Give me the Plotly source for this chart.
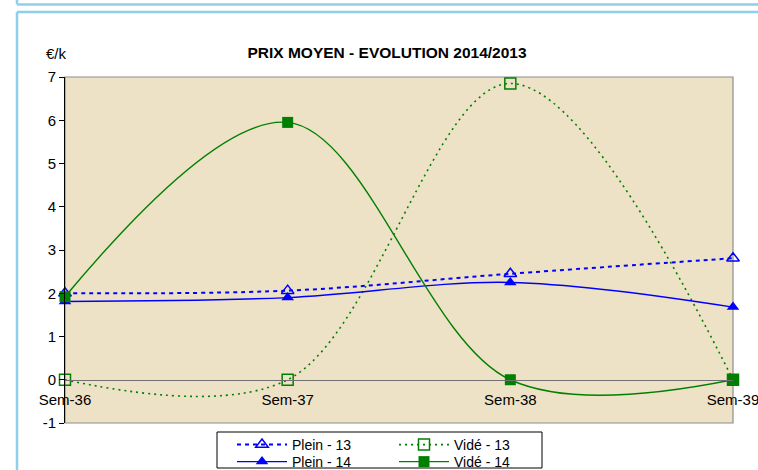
import plotly.graph_objects as go

# ---- data ----
categories = ["Sem-36", "Sem-37", "Sem-38", "Sem-39"]
plein_13 = [2.0, 2.06, 2.45, 2.81]
vide_13 = [0.0, 0.0, 6.85, 0.0]
plein_14 = [1.81, 1.9, 2.25, 1.68]
vide_14 = [1.92, 5.95, 0.0, 0.0]
y_ticks = [-1, 0, 1, 2, 3, 4, 5, 6, 7]
y_tick_labels = ["-1", "0", "1", "2", "3", "4", "5", "6", "7"]

W, H = 758, 470
L, R, T, B = 65, 733, 77, 423  # plot area in pixels


def px_x(px):
    return (px - L) / (R - L)


def px_y(py):
    return (B - py) / (B - T)


FONT = "Liberation Sans, Arial, sans-serif"
BLUE = "#0000FF"
GREEN = "#008000"

fig = go.Figure()

fig.add_trace(go.Scatter(
    x=categories, y=plein_13, name="Plein - 13", mode="lines+markers", legend="legend",
    line=dict(color=BLUE, width=2, dash="4px,4px", shape="spline", smoothing=1),
    marker=dict(symbol="triangle-up-open", size=11, color=BLUE, line=dict(width=1.5, color=BLUE)),
    cliponaxis=False,
))
fig.add_trace(go.Scatter(
    x=categories, y=vide_13, name="Vidé - 13", mode="lines+markers", legend="legend2",
    line=dict(color=GREEN, width=1.6, dash="2px,4px", shape="spline", smoothing=1),
    marker=dict(symbol="square-open", size=11, color=GREEN, line=dict(width=1.5, color=GREEN)),
    cliponaxis=False,
))
fig.add_trace(go.Scatter(
    x=categories, y=plein_14, name="Plein - 14", mode="lines+markers", legend="legend3",
    line=dict(color=BLUE, width=1.4, shape="spline", smoothing=1),
    marker=dict(symbol="triangle-up", size=11, color=BLUE),
    cliponaxis=False,
))
fig.add_trace(go.Scatter(
    x=categories, y=vide_14, name="Vidé - 14", mode="lines+markers", legend="legend4",
    line=dict(color=GREEN, width=1.4, shape="spline", smoothing=1),
    marker=dict(symbol="square", size=11, color=GREEN),
    cliponaxis=False,
))

FRAME = "#8FCFEE"
shapes = [
    # plot frame (grey)
    dict(type="rect", xref="paper", yref="paper", x0=0, x1=1, y0=0, y1=1,
         line=dict(color="#8C8C8C", width=1.2), layer="below"),
    # legend box
    dict(type="rect", xref="paper", yref="paper", x0=px_x(217), x1=px_x(542),
         y0=px_y(468), y1=px_y(432), line=dict(color="black", width=1)),
    # light blue page frames
    dict(type="line", xref="paper", yref="paper", x0=px_x(17), x1=px_x(770),
         y0=px_y(4.5), y1=px_y(4.5), line=dict(color=FRAME, width=2.5)),
    dict(type="line", xref="paper", yref="paper", x0=px_x(17), x1=px_x(17),
         y0=px_y(-5), y1=px_y(4.5), line=dict(color=FRAME, width=2.5)),
    dict(type="line", xref="paper", yref="paper", x0=px_x(17), x1=px_x(770),
         y0=px_y(12), y1=px_y(12), line=dict(color=FRAME, width=2.5)),
    dict(type="line", xref="paper", yref="paper", x0=px_x(17), x1=px_x(17),
         y0=px_y(12), y1=px_y(480), line=dict(color=FRAME, width=2.5)),
]

legend_common = dict(bgcolor="rgba(0,0,0,0)", borderwidth=0, yanchor="middle",
                     xanchor="left", orientation="v", itemwidth=50,
                     font=dict(family=FONT, size=14, color="black"))

fig.update_layout(
    width=W, height=H,
    margin=dict(l=L, r=W - R, t=T, b=H - B, pad=0, autoexpand=False),
    paper_bgcolor="white",
    plot_bgcolor="#EEE2C6",
    font=dict(family=FONT, size=15, color="black"),
    title=dict(text="<b>PRIX MOYEN - EVOLUTION 2014/2013</b>",
               x=387 / W, xanchor="center", y=1 - 53 / H, yanchor="middle",
               font=dict(family=FONT, size=15.5, color="black")),
    showlegend=True,
    legend=dict(x=px_x(232), y=px_y(445), **legend_common),
    legend2=dict(x=px_x(394), y=px_y(445), **legend_common),
    legend3=dict(x=px_x(232), y=px_y(462), **legend_common),
    legend4=dict(x=px_x(394), y=px_y(462), **legend_common),
    xaxis=dict(type="category", categoryorder="array", categoryarray=categories,
               range=[0, 3], anchor="free", position=0.125,
               showline=True, linecolor="#707070", linewidth=1,
               showgrid=False, zeroline=False,
               ticks="outside", ticklen=6, tickcolor="rgba(0,0,0,0)",
               tickfont=dict(family=FONT, size=15, color="black")),
    yaxis=dict(range=[-1, 7], tickvals=y_ticks, ticktext=y_tick_labels,
               showline=True, linecolor="black", linewidth=1,
               ticks="outside", ticklen=5, tickcolor="black", showgrid=False, zeroline=False,
               tickfont=dict(family=FONT, size=15, color="black")),
    shapes=shapes,
    annotations=[dict(text="€/k", xref="paper", yref="paper", x=px_x(44), y=px_y(53),
                      xanchor="left", yanchor="middle", showarrow=False,
                      font=dict(family=FONT, size=15, color="black"))],
)

fig.write_html("out.html", config={"displayModeBar": False},
               post_script="document.body.style.margin='0';document.body.style.overflow='hidden';")
